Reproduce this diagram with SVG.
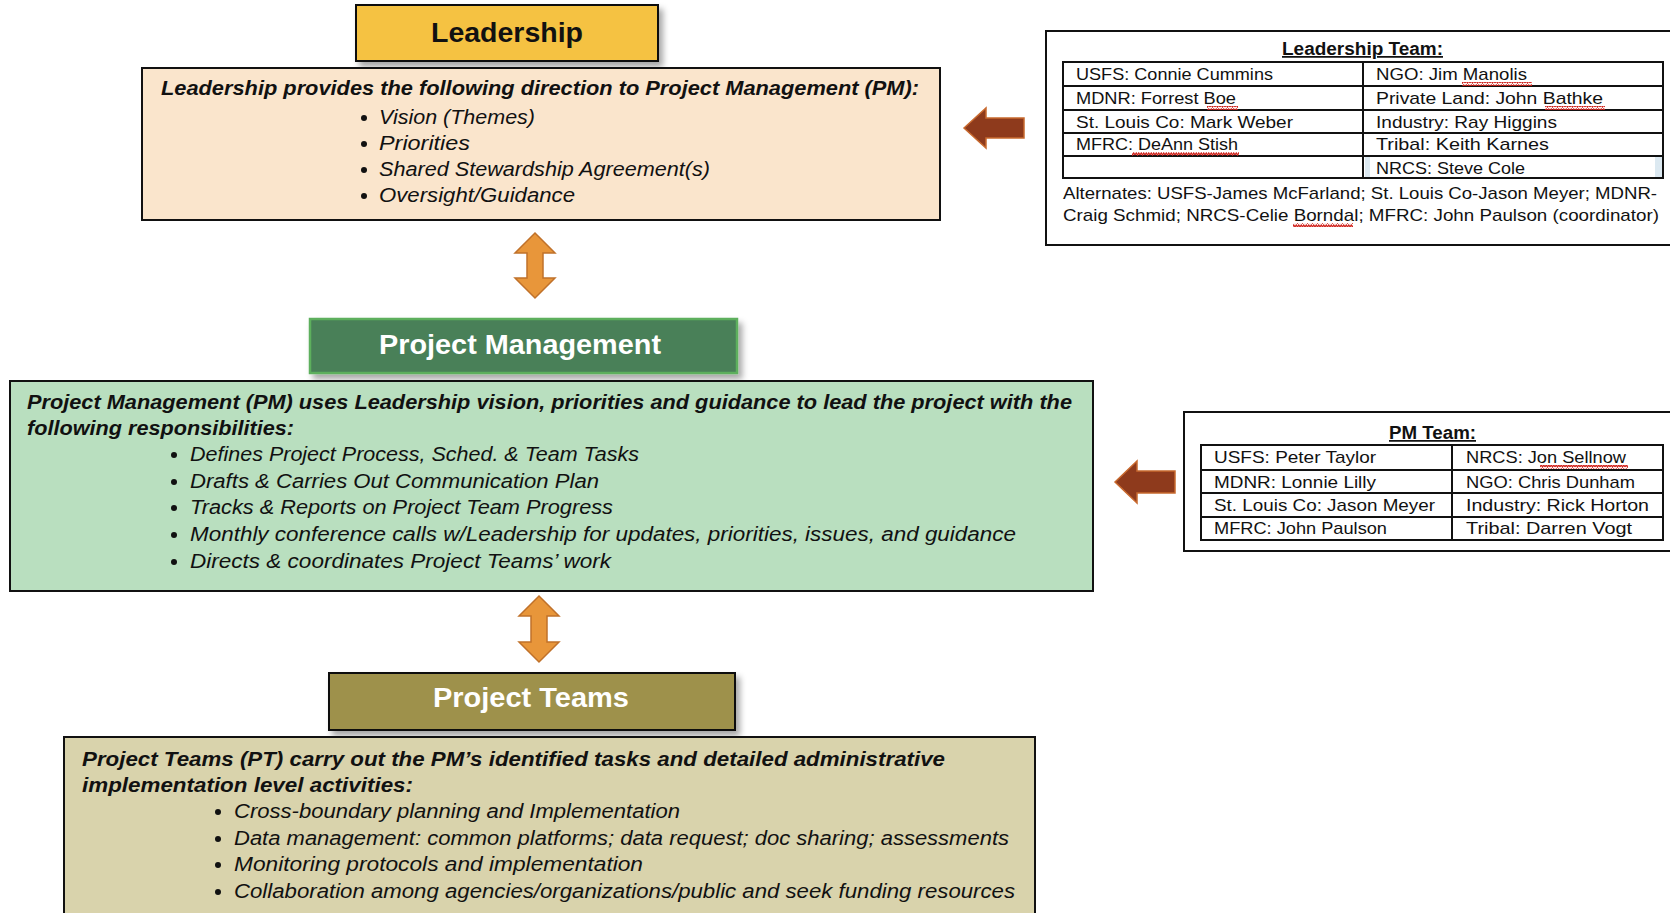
<svg xmlns="http://www.w3.org/2000/svg" width="1670" height="913" viewBox="0 0 1670 913">
<defs>
<filter id="sh" x="-10%" y="-20%" width="130%" height="160%"><feDropShadow dx="4" dy="5" stdDeviation="3" flood-color="#000" flood-opacity="0.35"/></filter>
<pattern id="wave" width="5" height="4" patternUnits="userSpaceOnUse"><path d="M0 3 L1.25 1 L2.5 3 L3.75 1 L5 3" fill="none" stroke="#d0231c" stroke-width="1.3"/></pattern>
<style>
.hd{font-family:"Liberation Sans",Arial,sans-serif;font-weight:bold;font-size:27px;text-anchor:middle}
.bi{font-family:"Liberation Sans",Arial,sans-serif;font-weight:bold;font-style:italic;font-size:20px;fill:#111}
.it{font-family:"Liberation Sans",Arial,sans-serif;font-style:italic;font-size:20px;fill:#111}
.tb{font-family:"Liberation Sans",Arial,sans-serif;font-size:17px;fill:#111}
.tt{font-family:"Liberation Sans",Arial,sans-serif;font-size:17.5px;font-weight:bold;fill:#111;text-decoration:underline}
.box{stroke:#111;stroke-width:2}
.grid{fill:none;stroke:#111;stroke-width:2}
.dbl{fill:#E8963A;stroke:#C0712A;stroke-width:1.5}
.brn{fill:#8E3A1C;stroke:#C8692E;stroke-width:1.5}
</style>
</defs>
<rect width="1670" height="913" fill="#fff"/>

<g id="leadership">
<rect x="356" y="5" width="302" height="56" fill="#F5C242" class="box" filter="url(#sh)"/>
<text x="507" y="42" class="hd" fill="#111" textLength="152" lengthAdjust="spacingAndGlyphs">Leadership</text>
</g>
<g id="leadership-desc">
<rect x="142" y="68" width="798" height="152" fill="#FAE5CC" class="box"/>
<text x="161" y="95" class="bi" textLength="758" lengthAdjust="spacingAndGlyphs">Leadership provides the following direction to Project Management (PM):</text>
<g class="it">
<circle cx="364" cy="118" r="3" fill="#111"/><text x="379" y="124" textLength="156" lengthAdjust="spacingAndGlyphs">Vision (Themes)</text>
<circle cx="364" cy="144" r="3" fill="#111"/><text x="379" y="150" textLength="91" lengthAdjust="spacingAndGlyphs">Priorities</text>
<circle cx="364" cy="170" r="3" fill="#111"/><text x="379" y="176" textLength="331" lengthAdjust="spacingAndGlyphs">Shared Stewardship Agreement(s)</text>
<circle cx="364" cy="196" r="3" fill="#111"/><text x="379" y="202" textLength="196" lengthAdjust="spacingAndGlyphs">Oversight/Guidance</text>
</g>
</g>

<g id="project-management">
<rect x="310" y="319" width="427" height="54" fill="#4A8059" stroke="#5DAF5D" stroke-width="2.5" filter="url(#sh)"/>
<text x="520" y="354" class="hd" fill="#fff" textLength="282" lengthAdjust="spacingAndGlyphs">Project Management</text>
</g>
<g id="pm-desc">
<rect x="10" y="381" width="1083" height="210" fill="#B9DFBF" class="box"/>
<text x="27" y="409" class="bi" textLength="1045" lengthAdjust="spacingAndGlyphs">Project Management (PM) uses Leadership vision, priorities and guidance to lead the project with the</text>
<text x="27" y="435" class="bi" textLength="267" lengthAdjust="spacingAndGlyphs">following responsibilities:</text>
<g class="it">
<circle cx="174" cy="455" r="3" fill="#111"/><text x="190" y="461" textLength="449" lengthAdjust="spacingAndGlyphs">Defines Project Process, Sched. &amp; Team Tasks</text>
<circle cx="174" cy="482" r="3" fill="#111"/><text x="190" y="488" textLength="409" lengthAdjust="spacingAndGlyphs">Drafts &amp; Carries Out Communication Plan</text>
<circle cx="174" cy="508" r="3" fill="#111"/><text x="190" y="514" textLength="423" lengthAdjust="spacingAndGlyphs">Tracks &amp; Reports on Project Team Progress</text>
<circle cx="174" cy="535" r="3" fill="#111"/><text x="190" y="541" textLength="826" lengthAdjust="spacingAndGlyphs">Monthly conference calls w/Leadership for updates, priorities, issues, and guidance</text>
<circle cx="174" cy="562" r="3" fill="#111"/><text x="190" y="568" textLength="421" lengthAdjust="spacingAndGlyphs">Directs &amp; coordinates Project Teams’ work</text>
</g>
</g>

<g id="project-teams">
<rect x="329" y="673" width="406" height="57" fill="#9E914C" class="box" filter="url(#sh)"/>
<text x="531" y="707" class="hd" fill="#fff" textLength="196" lengthAdjust="spacingAndGlyphs">Project Teams</text>
</g>
<g id="pt-desc">
<rect x="64" y="737" width="971" height="190" fill="#D9D3AC" class="box"/>
<text x="82" y="766" class="bi" textLength="863" lengthAdjust="spacingAndGlyphs">Project Teams (PT) carry out the PM’s identified tasks and detailed administrative</text>
<text x="82" y="792" class="bi" textLength="331" lengthAdjust="spacingAndGlyphs">implementation level activities:</text>
<g class="it">
<circle cx="218" cy="812" r="3" fill="#111"/><text x="234" y="818" textLength="446" lengthAdjust="spacingAndGlyphs">Cross-boundary planning and Implementation</text>
<circle cx="218" cy="839" r="3" fill="#111"/><text x="234" y="845" textLength="775" lengthAdjust="spacingAndGlyphs">Data management: common platforms; data request; doc sharing; assessments</text>
<circle cx="218" cy="865" r="3" fill="#111"/><text x="234" y="871" textLength="409" lengthAdjust="spacingAndGlyphs">Monitoring protocols and implementation</text>
<circle cx="218" cy="892" r="3" fill="#111"/><text x="234" y="898" textLength="781" lengthAdjust="spacingAndGlyphs">Collaboration among agencies/organizations/public and seek funding resources</text>
</g>
</g>

<g id="leadership-team">
<rect x="1046" y="31" width="640" height="214" fill="#fff" class="box"/>
<text x="1282" y="55" class="tt" textLength="161" lengthAdjust="spacingAndGlyphs">Leadership Team:</text>
<rect x="1365" y="157" width="5" height="20" fill="#DCE9F1"/>
<rect x="1655" y="157" width="7" height="20" fill="#DCE9F1"/>
<path class="grid" d="M1063 62H1663V178H1063Z M1063 86H1663 M1063 110H1663 M1063 133H1663 M1063 156H1663 M1363 62V178"/>
<g class="tb">
<text x="1076" y="80" textLength="197" lengthAdjust="spacingAndGlyphs">USFS: Connie Cummins</text>
<text x="1376" y="80" textLength="151" lengthAdjust="spacingAndGlyphs">NGO: Jim Manolis</text>
<text x="1076" y="104" textLength="160" lengthAdjust="spacingAndGlyphs">MDNR: Forrest Boe</text>
<text x="1376" y="104" textLength="227" lengthAdjust="spacingAndGlyphs">Private Land: John Bathke</text>
<text x="1076" y="128" textLength="217" lengthAdjust="spacingAndGlyphs">St. Louis Co: Mark Weber</text>
<text x="1376" y="128" textLength="181" lengthAdjust="spacingAndGlyphs">Industry: Ray Higgins</text>
<text x="1076" y="150" textLength="162" lengthAdjust="spacingAndGlyphs">MFRC: DeAnn Stish</text>
<text x="1376" y="150" textLength="173" lengthAdjust="spacingAndGlyphs">Tribal: Keith Karnes</text>
<text x="1376" y="174" textLength="149" lengthAdjust="spacingAndGlyphs">NRCS: Steve Cole</text>
<text x="1063" y="199" textLength="594" lengthAdjust="spacingAndGlyphs">Alternates: USFS-James McFarland; St. Louis Co-Jason Meyer; MDNR-</text>
<text x="1063" y="221" textLength="596" lengthAdjust="spacingAndGlyphs">Craig Schmid; NRCS-Celie Borndal; MFRC: John Paulson (coordinator)</text>
</g>
<rect x="1462" y="82" width="70" height="4" fill="url(#wave)"/>
<rect x="1207" y="106" width="31" height="4" fill="url(#wave)"/>
<rect x="1545" y="106" width="60" height="4" fill="url(#wave)"/>
<rect x="1132" y="152" width="107" height="4" fill="url(#wave)"/>
<rect x="1293" y="223" width="60" height="4" fill="url(#wave)"/>
</g>

<g id="pm-team">
<rect x="1184" y="412" width="500" height="139" fill="#fff" class="box"/>
<text x="1389" y="439" class="tt" textLength="87" lengthAdjust="spacingAndGlyphs">PM Team:</text>
<path class="grid" d="M1201 445H1663V540H1201Z M1201 470H1663 M1201 493H1663 M1201 517H1663 M1452 445V540"/>
<g class="tb">
<text x="1214" y="463" textLength="162" lengthAdjust="spacingAndGlyphs">USFS: Peter Taylor</text>
<text x="1466" y="463" textLength="160" lengthAdjust="spacingAndGlyphs">NRCS: Jon Sellnow</text>
<text x="1214" y="488" textLength="162" lengthAdjust="spacingAndGlyphs">MDNR: Lonnie Lilly</text>
<text x="1466" y="488" textLength="169" lengthAdjust="spacingAndGlyphs">NGO: Chris Dunham</text>
<text x="1214" y="511" textLength="221" lengthAdjust="spacingAndGlyphs">St. Louis Co: Jason Meyer</text>
<text x="1466" y="511" textLength="183" lengthAdjust="spacingAndGlyphs">Industry: Rick Horton</text>
<text x="1214" y="534" textLength="173" lengthAdjust="spacingAndGlyphs">MFRC: John Paulson</text>
<text x="1466" y="534" textLength="166" lengthAdjust="spacingAndGlyphs">Tribal: Darren Vogt</text>
</g>
<rect x="1540" y="465" width="88" height="4" fill="url(#wave)"/>
</g>

<g id="connectors">
<polygon class="dbl" points="535,233 555,253 543,253 543,278 555,278 535,298 515,278 527,278 527,253 515,253"/>
<polygon class="dbl" points="539,596 559,616 547,616 547,642 559,642 539,662 519,642 531,642 531,616 519,616"/>
<polygon class="brn" points="964,128 986,108 986,118 1024,118 1024,138 986,138 986,148"/>
<polygon class="brn" points="1115,482 1137,461 1137,471 1175,471 1175,493 1137,493 1137,503"/>
</g>
</svg>
